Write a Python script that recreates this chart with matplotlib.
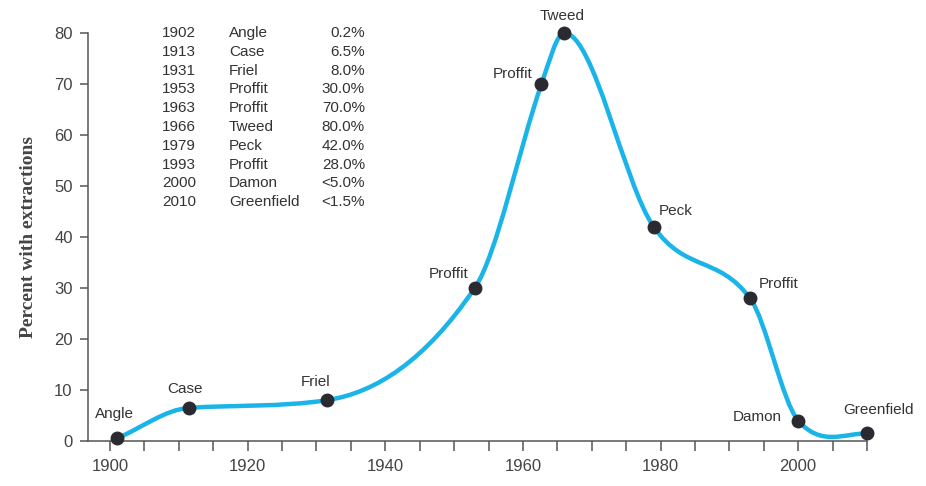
import numpy as np
import matplotlib
matplotlib.use("Agg")
import matplotlib.pyplot as plt
from matplotlib.path import Path
from matplotlib.patches import PathPatch

# table text (as printed in the chart)
tab_years = ["1902", "1913", "1931", "1953", "1963", "1966", "1979", "1993", "2000", "2010"]
tab_names = ["Angle", "Case", "Friel", "Proffit", "Proffit", "Tweed", "Peck", "Proffit", "Damon", "Greenfield"]
tab_pct = ["0.2%", "6.5%", "8.0%", "30.0%", "70.0%", "80.0%", "42.0%", "28.0%", "<5.0%", "<1.5%"]

# plotted points
pt_year = np.array([1901, 1911.5, 1931.5, 1953, 1962.7, 1966, 1979, 1993, 2000, 2010])
pt_pct = np.array([0.5, 6.5, 8.0, 30.0, 70.0, 80.0, 42.0, 28.0, 4.0, 1.5])
pt_label = ["Angle", "Case", "Friel", "Proffit", "Proffit", "Tweed", "Peck", "Proffit", "Damon", "Greenfield"]

# label offsets in pixels (dx, dy, ha)
lab_off = [(-2, 24, "center"), (-4, 19, "center"), (-11, 18, "center"),
           (-6, 14, "right"), (-9, 10, "right"), (-2, 17, "center"),
           (5, 16, "left"), (9, 14, "left"), (-16, 4, "right"), (11, 23, "center")]

LINE = "#1ab4e8"
DOT = "#2a2a30"
TXT = "#333333"

plt.rcParams["font.family"] = ["Liberation Sans", "DejaVu Sans"]

fig = plt.figure(figsize=(9.26, 4.86), dpi=100)
ax = fig.add_axes([88 / 926, 45 / 486, (867 - 88) / 926, 408 / 486])
ax.set_xlim(1896.8, 2010)
ax.set_ylim(0, 80)

# smooth curve through the points: catmull-rom tangents, flat at the peak,
# fritsch-carlson damping to stop wiggles (not on the last piece, which dips)
x, y = pt_year, pt_pct
n = len(x)
sec = np.diff(y) / np.diff(x)
m = np.zeros(n)
for i in range(1, n - 1):
    m[i] = (y[i + 1] - y[i - 1]) / (x[i + 1] - x[i - 1])
    if sec[i - 1] * sec[i] < 0:
        m[i] = 0.0
m[0] = sec[0]
m[-1] = 0.0
for k in range(n - 2):
    a, b = m[k] / sec[k], m[k + 1] / sec[k]
    r = np.hypot(a, b)
    if r > 3:
        m[k] = 3 * a / r * sec[k]
        m[k + 1] = 3 * b / r * sec[k]

verts = [(x[0], y[0])]
codes = [Path.MOVETO]
for i in range(n - 1):
    h = x[i + 1] - x[i]
    verts += [(x[i] + h / 3, y[i] + m[i] * h / 3),
              (x[i + 1] - h / 3, y[i + 1] - m[i + 1] * h / 3),
              (x[i + 1], y[i + 1])]
    codes += [Path.CURVE4] * 3
ax.add_patch(PathPatch(Path(verts, codes), fill=False, edgecolor=LINE, lw=3.2,
                       capstyle="round", clip_on=False, zorder=2))
ax.plot(x, y, "o", color=DOT, ms=9, clip_on=False, zorder=3)

for xi, yi, lab, (dx, dy, ha) in zip(x, y, pt_label, lab_off):
    ax.annotate(lab, (xi, yi), xytext=(dx, dy), textcoords="offset pixels",
                ha=ha, va="center", fontsize=11, color=TXT)

# table in the upper left
for k in range(len(tab_years)):
    yy = 1.0 - k * 18.8 / 408
    ax.text(74 / 779, yy, tab_years[k], transform=ax.transAxes, ha="left", va="center", fontsize=11, color=TXT)
    ax.text(141 / 779, yy, tab_names[k], transform=ax.transAxes, ha="left", va="center", fontsize=11, color=TXT)
    ax.text(277 / 779, yy, tab_pct[k], transform=ax.transAxes, ha="right", va="center", fontsize=11, color=TXT)

for s in ["top", "right"]:
    ax.spines[s].set_visible(False)
for s in ["left", "bottom"]:
    ax.spines[s].set_color("#555555")
    ax.spines[s].set_linewidth(1.1)
ax.spines["left"].set_bounds(0, 80)

ax.set_xticks(np.arange(1900, 2011, 5))
ax.set_xticklabels([str(v) if v % 20 == 0 and v <= 2000 else "" for v in range(1900, 2011, 5)])
ax.set_yticks(np.arange(0, 81, 10))
ax.tick_params(axis="both", colors="#555555", labelcolor="#444444", labelsize=12, width=1.1)
ax.tick_params(axis="x", length=7, pad=6)
ax.tick_params(axis="y", length=6, pad=5)

ax.set_ylabel("Percent with extractions", family=["Liberation Serif", "DejaVu Serif"],
              fontweight="bold", fontsize=14, color="#444444", labelpad=12)

fig.savefig("out.png", dpi=100)
